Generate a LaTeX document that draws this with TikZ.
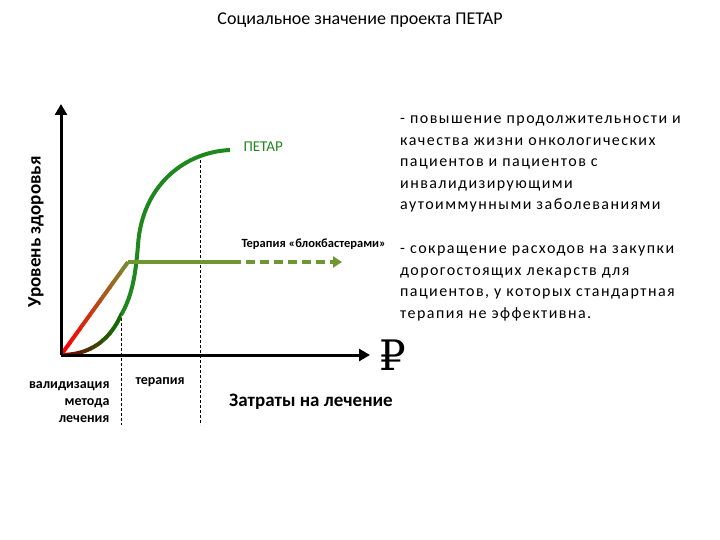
\documentclass[tikz,border=0pt]{standalone}
\usepackage{fontspec}
\setmainfont{Carlito}
\newfontfamily\dvs{DejaVu Serif}
\newfontfamily\spc[LetterSpace=9]{Carlito}
\usetikzlibrary{arrows.meta}
\begin{document}
\begin{tikzpicture}[x=1pt,y=-1pt,
  axis/.style={line width=3pt,-{Triangle[length=11pt,width=12pt]}},
  guide/.style={line width=0.7pt,dash pattern=on 3pt off 2pt},
  lbl/.style={font=\bfseries\fontsize{14}{17}\selectfont,align=right},
  body/.style={font=\spc\fontsize{16}{21.5}\selectfont,align=left,anchor=north west,inner sep=0pt}]
\definecolor{pg}{RGB}{30,135,30}
\definecolor{ol}{RGB}{110,150,50}
\useasboundingbox (0,0) rectangle (720,540);
\node (title) at (360,20) {\fontsize{18}{20}\selectfont Социальное значение проекта ПЕТАР};
\coordinate (o) at (61,355);
\coordinate (ytop) at (61,104);
\coordinate (xend) at (370,355);
% guides
\coordinate (g1t) at (121,318); \coordinate (g1b) at (121,425);
\coordinate (g2t) at (200,155); \coordinate (g2b) at (200,425);
\draw[guide] (g1t) -- (g1b);
\draw[guide] (g2t) -- (g2b);
% green curve (upper part)
\coordinate (c1) at (121,315); \coordinate (c2) at (230,150);
\draw[pg,line width=4pt] (c1) .. controls (133,295) and (136,270) .. (138,245) .. controls (142,185) and (185,152) .. (c2);
% lower curve gradient
\foreach \k in {0,...,5}{
  \pgfmathtruncatemacro\p{100-\k*17}
  \begin{scope}
    \clip (61+\k*10,300) rectangle (71+\k*10+0.5,365);
    \draw[red!\p!green!50!black,line width=4pt,line cap=round] (o) .. controls (90,355) and (110,340) .. (c1);
  \end{scope}}
% olive line
\coordinate (bk) at (128,262); \coordinate (bs) at (232,262); \coordinate (be) at (342,262);
\foreach \k in {0,...,6}{
  \pgfmathtruncatemacro\p{100-\k*15}
  \begin{scope}
    \clip (61+\k*10,250) rectangle (71+\k*10+0.5,365);
    \draw[red!\p!ol,line width=4pt] (o) -- (bk);
  \end{scope}}
\draw[ol,line width=4pt] (bk) -- (bs);
\draw[ol,line width=4pt,dash pattern=on 9pt off 5pt,-{Triangle[length=9pt,width=11pt]}] (bs) -- (be);
% axes
\draw[axis] (o) -- (ytop);
\draw[axis] (o) -- (xend);
\node[font=\bfseries\fontsize{19}{21}\selectfont,rotate=90] (ylab) at (36,232) {Уровень здоровья};
\node[font=\dvs\fontsize{42}{42}\selectfont] (rub) at (393,355) {₽};
\node[font=\bfseries\fontsize{19}{21}\selectfont] (xlab) at (311,402) {Затраты на лечение};
\node[lbl,anchor=east] (val) at (113,402) {валидизация\\метода\\лечения};
\node[lbl,anchor=west] (ter) at (132,382) {терапия};
\node[pg,font=\fontsize{15}{17}\selectfont,anchor=west] (petar) at (240,147) {ПЕТАР};
\node[anchor=west,font=\bfseries\fontsize{12.5}{14}\selectfont] (blk) at (238,244) {Терапия «блокбастерами»};
\node[body] (p1) at (400,116) {- повышение продолжительности и\\качества жизни онкологических\\пациентов  и пациентов с\\инвалидизирующими\\аутоиммунными заболеваниями};
\node[body] (p2) at (400,246) {- сокращение расходов на закупки\\дорогостоящих лекарств  для\\пациентов, у которых стандартная\\терапия не эффективна.};
\end{tikzpicture}
\end{document}
